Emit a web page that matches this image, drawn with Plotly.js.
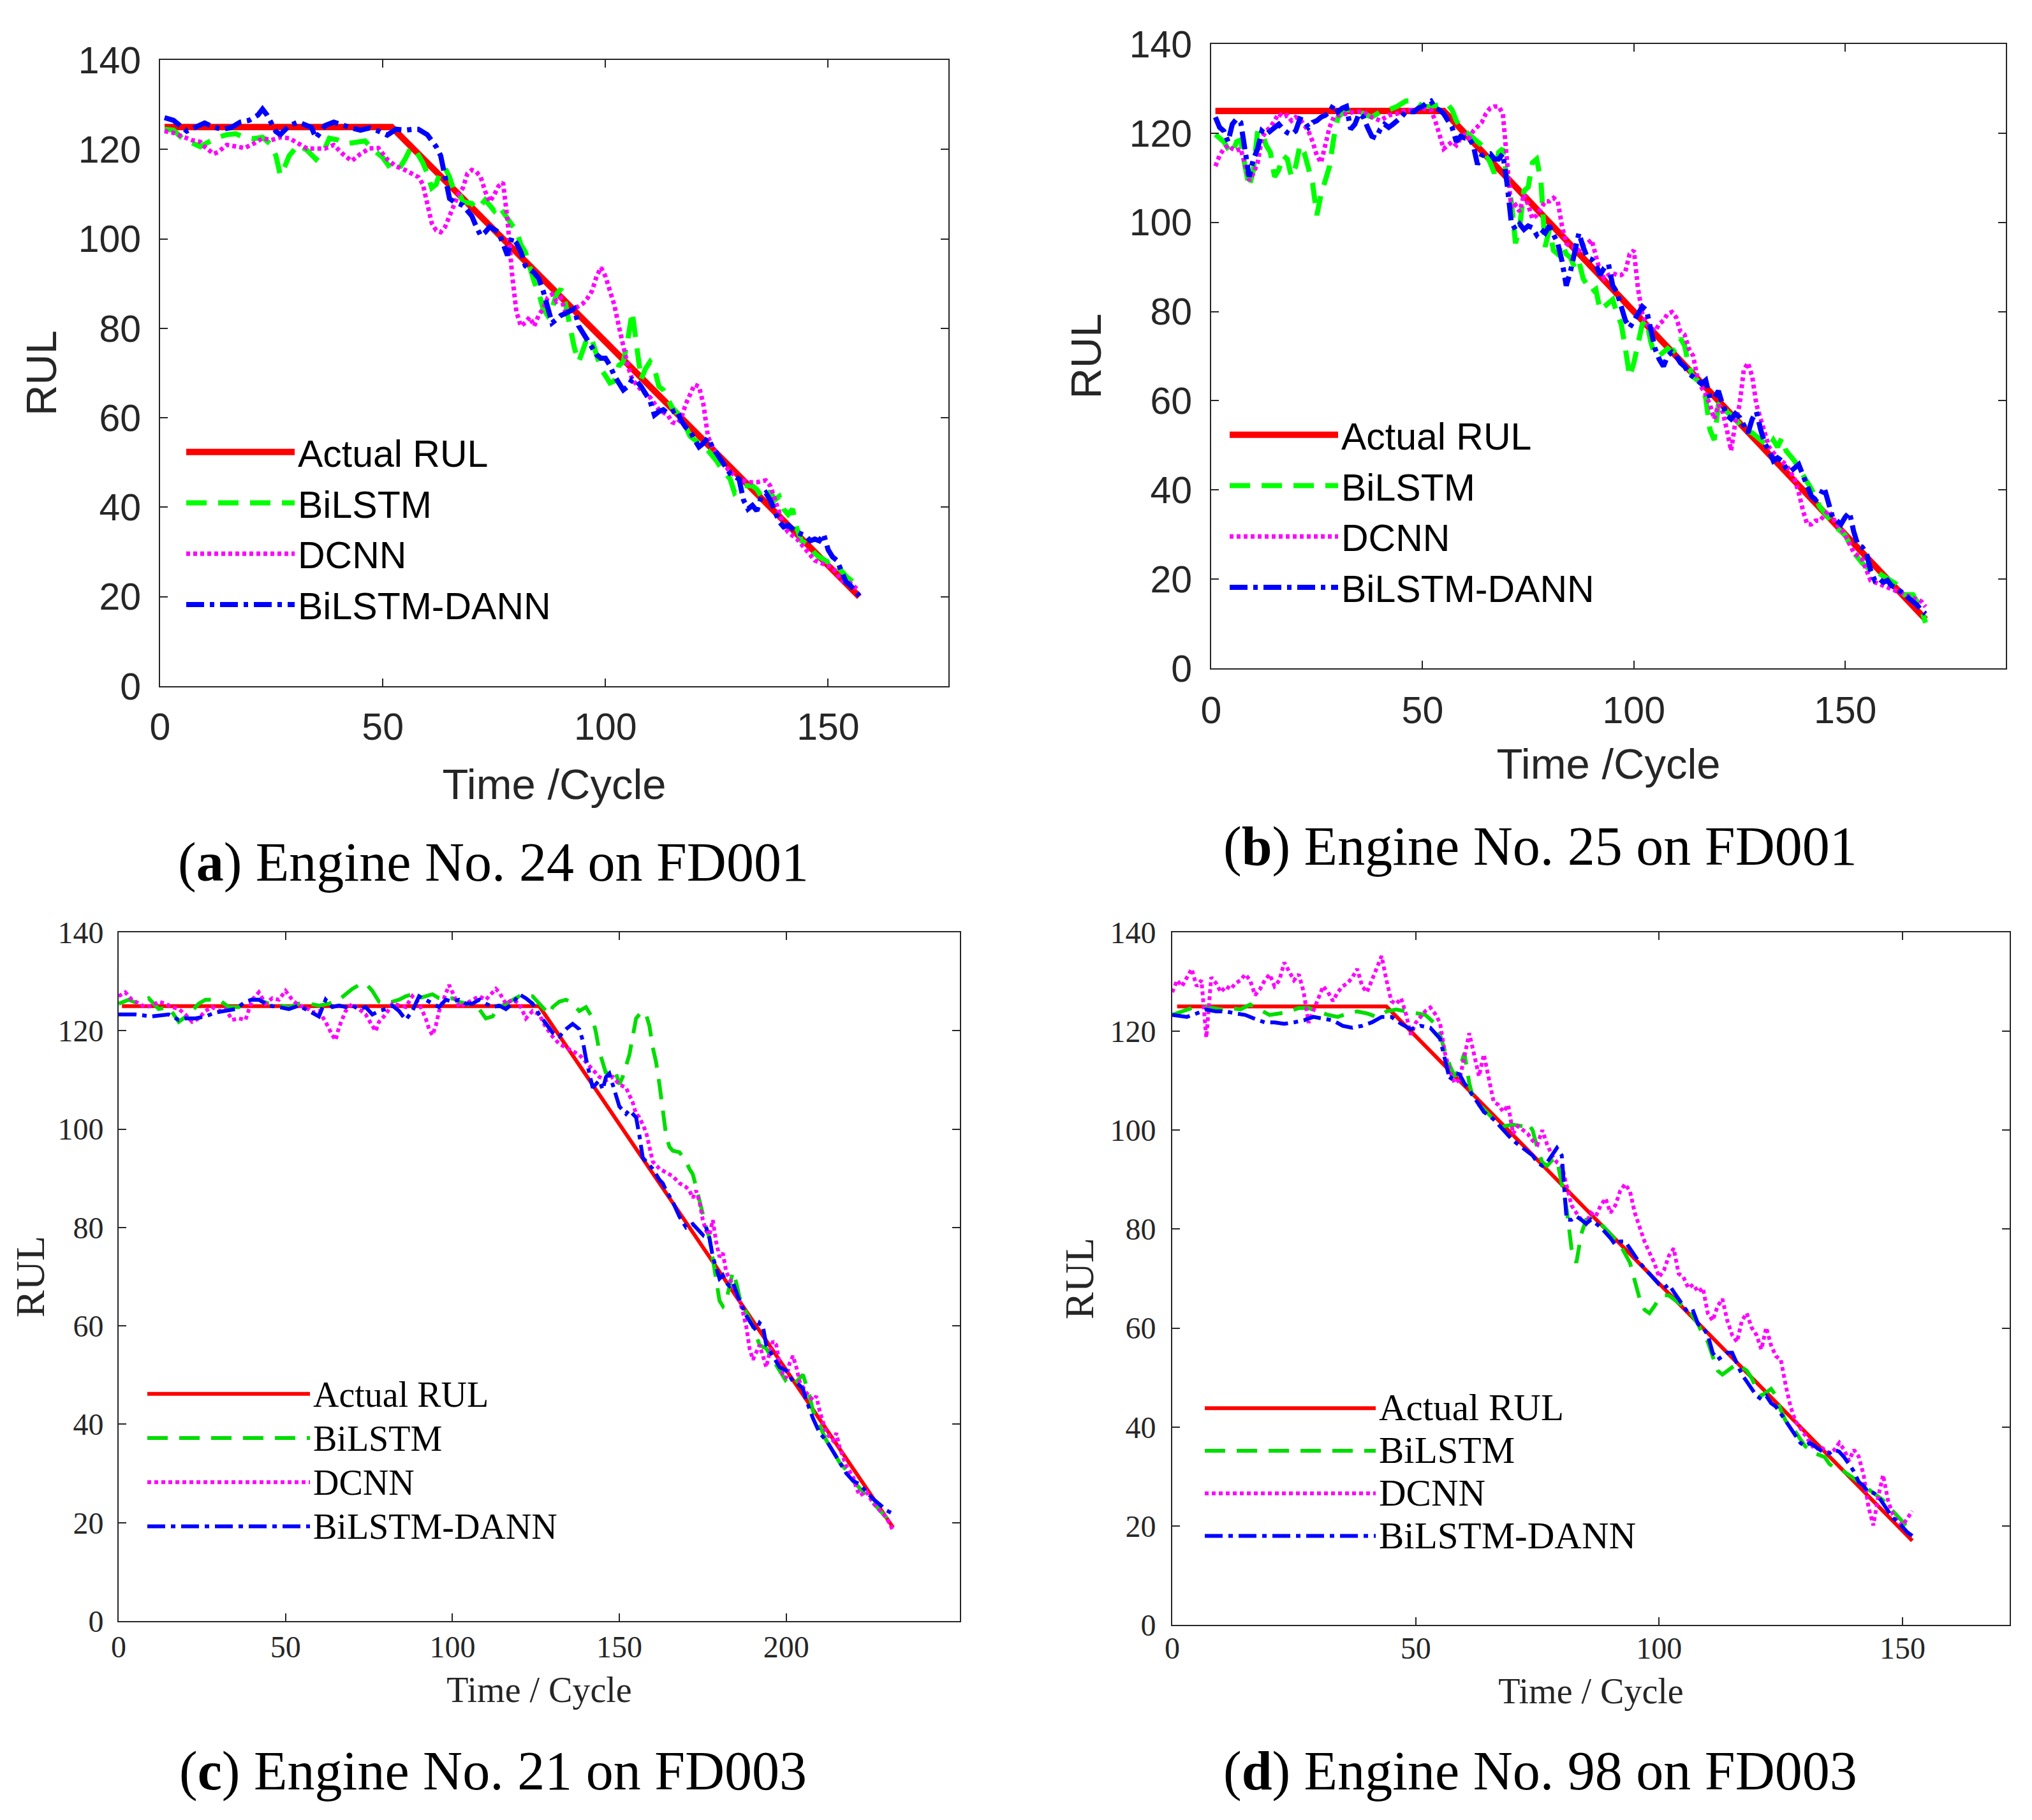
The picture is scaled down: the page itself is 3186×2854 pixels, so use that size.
<!DOCTYPE html>
<html>
<head>
<meta charset="utf-8">
<script src="https://cdn.plot.ly/plotly-3.0.1.min.js"></script>
<style>
  html, body { margin: 0; padding: 0; background: #fff; }
  #graph { width: 3186px; height: 2854px; }
</style>
</head>
<body>
<div id="graph"></div>
<script>
// series names (legend)
var seriesNames = ['Actual RUL', 'BiLSTM', 'DCNN', 'BiLSTM-DANN'];
var yTicks = [0, 20, 40, 60, 80, 100, 120, 140];
var xTicksA = [0, 50, 100, 150];
var xTicksC = [0, 50, 100, 150, 200];
var captions = ['Engine No. 24 on FD001', 'Engine No. 25 on FD001', 'Engine No. 21 on FD003', 'Engine No. 98 on FD003'];
var captionTags = ['a', 'b', 'c', 'd'];

// ---- (a) engine 24, FD001 : [cycle, RUL]
var aActual = [[1,125],[52,125],[157,20]];
var aBilstm = [[1,124.5],[3,124.3],[5,122.5],[7,121.6],[9,120.6],[11,121.7],[13,122.7],[15,123.3],[17,123.5],[19,122.7],[21,122.4],[23,122.7],[25,121],[26,118.6],[27,114.2],[28,116.2],[29,118.6],[31,121],[33,119.8],[35,117.8],[37,120.2],[38,122.5],[40,122.1],[42,121.3],[44,121.7],[46,121.9],[48,119.8],[50,118.2],[52,115.4],[54,116.2],[55,117.8],[56,119.8],[57,120.5],[59,117],[60,114.6],[61,111.4],[62,112.2],[63,115.4],[64,115.8],[65,113.8],[66,110.6],[67,110.6],[68,108.3],[70,107.9],[71,106.7],[72,107.5],[73,108.7],[74,107.5],[75,106.3],[76,107.5],[77,105.9],[78,104.7],[79,103.1],[80,101.9],[81,98.7],[82,97.1],[83,93.2],[84,90.4],[85,88],[86,84.4],[87,82.9],[88,84.4],[89,87.6],[90,88.8],[91,85.6],[92,80.5],[93,75.7],[94,72.5],[95,75.7],[96,78.1],[97,77.3],[98,74.1],[99,70.9],[100,69.4],[101,67.8],[102,68.2],[103,71.7],[104,72.5],[105,77.3],[106,83.7],[107,75.7],[108,68.6],[109,71],[110,72.5],[111,71],[112,67],[113,66.2],[115,62.2],[117,60.2],[119,55.9],[121,54.3],[123,52.7],[125,50.3],[126,48.7],[128,46.3],[129,43.2],[130,44],[131,44.8],[133,44.8],[134,44],[135,42.4],[136,42],[137,43.6],[138,41.6],[139,42.4],[140,39.6],[141,38.4],[142,39.6],[143,35.2],[144,32.5],[146,31.3],[147,29.7],[148,28.9],[150,27.7],[151,28.1],[152,26.9],[154,24.6],[155,23.8],[156,23],[157,21.7]];
var aDcnn = [[1,124.1],[3,123.7],[5,122.9],[7,122.1],[9,121.7],[10,120.6],[12,119],[13,119.4],[15,121],[17,120.6],[19,120.3],[21,121.3],[23,122.5],[25,122.1],[27,122.7],[29,122.5],[31,121.3],[33,120.2],[35,120.2],[37,120.2],[39,121],[41,119],[43,117.4],[45,119],[47,120.2],[49,120.3],[51,117.8],[53,116.2],[55,115.4],[57,114.2],[58,113.8],[59,112.2],[60,108.3],[61,103.5],[62,101.9],[63,101.5],[64,102.7],[65,105.1],[66,107.5],[67,110],[68,111.4],[69,114.6],[70,115.4],[71,115],[72,113.8],[73,110.6],[74,108.3],[75,109.8],[76,111.8],[77,112.6],[78,104.3],[79,92.4],[80,83.7],[81,80.5],[82,81.3],[83,82.5],[84,80.5],[85,82.9],[86,84.4],[87,86.8],[88,87.6],[89,86],[90,86.8],[91,83.7],[92,83.7],[93,84.4],[94,84.8],[95,85.6],[96,86.8],[97,88.4],[98,91.6],[99,93.6],[100,91.6],[101,88.4],[102,85.2],[103,80.5],[104,75.7],[105,71.7],[106,68.6],[108,66.2],[110,64.6],[112,61.8],[114,60.6],[115,59],[116,58.7],[117,59.8],[118,63],[119,65.4],[120,67.4],[121,67],[122,63],[123,55.9],[124,53.5],[126,50.3],[128,47.9],[130,46.3],[132,45.6],[134,45.6],[136,46],[137,44.8],[138,41.6],[139,38.4],[140,36],[141,34.4],[143,32.9],[145,30.5],[147,28.1],[149,27.3],[151,26.5],[153,23.7],[155,23],[157,21.3]];
var aDann = [[1,127.1],[3,126.5],[6,124.1],[8,125],[10,125.9],[12,125],[14,124.5],[16,124.9],[18,126.1],[20,126.5],[22,127.7],[23,129],[24,127.7],[26,124],[27,123.3],[29,125.3],[31,126.1],[32,125.7],[34,124.9],[35,122.5],[37,125.3],[39,126.1],[41,125.3],[43,124.8],[45,124.3],[47,124.8],[49,124.1],[51,123.2],[53,124.5],[55,124.3],[57,124.5],[58,124.5],[60,123.3],[62,120.6],[63,118.6],[64,113.8],[65,109],[66,108.3],[68,107.5],[69,106.3],[70,105.1],[71,102.7],[72,100.7],[73,101.5],[74,102.7],[76,101.5],[77,98.7],[78,96.3],[79,100.3],[80,99.1],[81,97.1],[82,94],[84,92.4],[85,91.2],[86,88.4],[87,84.4],[88,81.2],[89,82],[90,82.9],[91,83.3],[92,83.7],[93,84.4],[94,80.5],[96,77.3],[98,74.1],[99,73.3],[100,73.3],[101,71.7],[102,69.4],[104,66.2],[105,67],[106,68.6],[107,68.2],[108,67],[109,65.4],[110,63.8],[111,60.6],[112,61.4],[113,61.8],[114,61],[116,61.8],[117,59.4],[118,57.9],[119,57.1],[120,55.1],[121,53.5],[122,54.3],[123,55.5],[124,53.5],[126,50.3],[128,47.5],[130,46.3],[131,41.6],[132,39.6],[133,40.4],[134,39.2],[135,42.4],[136,43.2],[137,41.6],[138,39.2],[139,36.8],[140,35.6],[141,36],[142,35.2],[143,34.4],[144,34],[145,33.6],[146,32.5],[147,32.9],[148,32.5],[149,34],[150,30.5],[151,28.9],[152,28.1],[153,25.7],[154,23.3],[155,22.5],[156,21.3],[157,20.2]];

// ---- (b) engine 25, FD001
var bActual = [[1,125],[55,125],[169,11]];
var bBilstm = [[1,119.7],[3,118.1],[4,116.5],[5,115.4],[6,118.1],[7,118.5],[8,112.6],[9,107.9],[10,111.8],[11,120.5],[12,120.1],[13,117.3],[14,115.7],[15,110.2],[16,111.8],[17,115],[18,114.2],[19,110.2],[20,112.6],[21,117.3],[22,115.7],[23,111.8],[24,108.7],[25,101.6],[26,106.3],[27,109.4],[28,112.6],[29,118.9],[30,123.6],[32,125.2],[34,125.2],[36,124.4],[38,123.6],[40,124.8],[42,125.2],[44,126],[46,127.2],[48,127.4],[50,126],[52,126],[54,126.4],[56,126.4],[57,125.2],[58,122.8],[59,121.3],[60,120.5],[62,118.9],[64,117.3],[66,113.4],[67,111],[68,115.7],[69,116.5],[70,109.4],[71,104.7],[72,95.3],[73,99.2],[74,107.1],[75,107.9],[76,113.4],[77,114.2],[78,109.4],[79,94.5],[80,98.4],[81,93.7],[82,92.9],[83,95.3],[84,92.9],[85,92.1],[86,89.8],[87,91.3],[88,87.4],[89,85.8],[90,84.3],[91,85],[92,80.3],[93,81.1],[94,81.9],[95,82.7],[96,79.5],[97,77.2],[98,71.7],[99,65.4],[100,68.5],[101,73.2],[102,77.2],[103,78],[104,73.2],[105,70.1],[106,70.1],[107,70.9],[108,71.7],[109,70.9],[110,71.7],[111,74],[112,72.4],[113,67.7],[114,65.4],[115,64.6],[116,63.8],[117,60.6],[118,53.5],[119,51.2],[120,59.1],[121,59.8],[122,57.5],[124,55.9],[126,53.5],[128,52.8],[130,51.2],[131,50.4],[132,49.6],[133,51.2],[134,49.6],[135,51.6],[136,48.8],[138,46.5],[140,43.3],[142,40.2],[144,36.2],[146,33.9],[148,31.5],[150,29.9],[152,26],[154,23.6],[156,22],[158,21.3],[160,20.1],[162,18.9],[164,16.5],[166,16.5],[168,13.4],[169,10.2]];
var bDcnn = [[1,112.6],[2,115],[3,116.5],[4,117.3],[5,116.5],[6,116.1],[7,116.5],[8,112.6],[9,109.4],[10,111],[11,113.4],[12,118.9],[13,120.5],[14,121.3],[15,122.8],[16,124.4],[17,123.6],[18,124],[19,122.8],[20,123.6],[21,123.2],[22,122],[23,120.5],[24,118.1],[25,115],[26,113.4],[27,117.3],[28,121.3],[29,123.6],[30,124],[32,124.4],[34,124.8],[36,124.8],[38,123.6],[40,122.8],[42,124],[44,124.4],[46,125.2],[48,125.2],[50,125.6],[52,125.2],[53,122.8],[54,119.7],[55,116.5],[56,117.3],[57,118.1],[58,117.3],[59,118.9],[60,119.7],[61,118.9],[62,120.5],[63,121.3],[64,122.4],[65,124.4],[66,125.6],[67,126],[68,126],[69,124.4],[70,112.6],[71,103.1],[72,103.9],[73,102.4],[74,106.3],[75,103.9],[76,100.8],[77,101.6],[78,103.1],[79,104.7],[80,104.7],[81,105.5],[82,104.7],[83,99.2],[84,95.3],[85,94.5],[86,94.5],[87,93.7],[88,94.9],[89,95.3],[90,96.1],[91,92.9],[92,89],[93,87.4],[94,88.2],[95,88.6],[96,88.2],[97,88.2],[98,89],[99,92.9],[100,93.7],[101,85],[102,79.5],[103,77.2],[104,76.4],[105,75.6],[106,77.2],[107,78],[108,79.5],[109,79.9],[110,78.7],[111,75.6],[112,74.8],[113,71.7],[114,70.1],[115,65.4],[116,63],[117,61.4],[118,59.1],[119,55.9],[120,59.1],[121,57.5],[122,53.5],[123,48.8],[124,55.1],[125,59.1],[126,66.9],[127,68.5],[128,65.4],[129,59.1],[130,55.9],[131,52.8],[132,49.6],[134,47.2],[136,45.7],[138,42.5],[139,39.4],[140,35.4],[141,32.3],[142,32.3],[143,33.1],[144,33.1],[146,35.4],[148,32.3],[150,29.9],[152,26],[154,24.4],[156,19.7],[158,18.9],[160,18.1],[162,17.3],[164,16.5],[166,15.7],[168,15],[169,13.8]];
var bDann = [[1,123.6],[2,121.3],[3,120.5],[4,118.1],[5,122],[6,123.2],[7,122.4],[8,115.7],[9,110.2],[10,114.2],[11,116.5],[12,120.5],[13,119.7],[14,120.5],[15,121.3],[16,122],[17,120.9],[18,120.1],[19,119.7],[20,120.5],[21,123.2],[22,122.8],[23,121.3],[24,122.4],[25,122.8],[26,123.6],[27,124],[28,124.8],[29,126.4],[30,124.8],[31,125.6],[32,126],[33,120.9],[34,122],[35,124.4],[36,123.6],[37,121.3],[38,119.3],[39,118.9],[40,120.9],[41,122],[42,121.3],[43,122],[44,122.8],[45,123.6],[46,124.8],[47,124.8],[48,124.8],[49,125.6],[50,126],[51,126.8],[52,127.2],[53,125.6],[54,125.2],[55,124.4],[56,122.8],[57,121.3],[58,118.1],[59,119.3],[60,118.9],[61,118.9],[62,117.3],[63,113],[64,115],[65,115.4],[66,115.4],[67,114.2],[68,114.2],[69,115.4],[70,108.7],[71,100],[72,98.4],[73,99.6],[74,98.4],[75,99.2],[76,98.8],[77,97.2],[78,98.4],[79,97.6],[80,99.2],[81,97.2],[82,95.3],[83,91.3],[84,85.8],[85,89],[86,93.7],[87,97.6],[88,94.5],[89,92.1],[90,91.7],[91,90.6],[92,88.2],[93,89.8],[94,90.6],[95,85.8],[96,84.3],[97,81.1],[98,78],[99,76.4],[100,78],[101,79.5],[102,81.1],[103,80.3],[104,76.4],[105,71.7],[106,69.3],[107,67.7],[108,70.1],[109,70.9],[110,70.1],[111,68.5],[112,67.7],[113,66.1],[114,65.4],[115,64.6],[116,63.8],[117,64.6],[118,60.6],[119,60.6],[120,62.2],[121,59.1],[122,56.7],[123,55.9],[124,57.1],[125,56.3],[126,54.3],[127,52.8],[128,55.9],[129,57.5],[130,53.5],[131,50.4],[132,48.8],[133,46.5],[134,47.2],[135,46.5],[136,44.9],[137,44.1],[138,44.9],[139,45.7],[140,43.3],[141,40.9],[142,38.6],[143,37.8],[144,38.6],[145,40.6],[146,37],[147,33.9],[148,33.1],[149,32.3],[150,33.9],[151,35],[152,30.7],[153,27.6],[154,27.2],[155,26],[156,22],[157,19.7],[158,20.1],[159,19.3],[160,19.7],[161,18.5],[162,18.1],[163,17.3],[164,16.5],[165,15.7],[166,15],[167,14.2],[168,13],[169,12.2]];

// ---- (c) engine 21, FD003
var cActual = [[1,125],[126,125],[232,19]];
var cBilstm = [[0,125.5],[3,126.3],[6,125.5],[9,126.6],[12,124.4],[15,124.8],[18,121.8],[21,123.3],[24,125.5],[26,126.3],[28,126.3],[30,126.3],[33,124.8],[36,124.8],[39,126.3],[42,126.3],[45,125.5],[48,125.1],[51,124.8],[54,125.5],[57,125.5],[60,125.1],[63,125.5],[66,126.3],[68,127.4],[70,128.5],[72,129.3],[74,129.6],[76,128.1],[78,125.9],[80,125.5],[82,125.9],[84,126.3],[86,127],[88,127.4],[90,126.6],[92,127],[94,127.4],[96,126.6],[98,126.3],[100,126.6],[102,125.9],[104,125.5],[106,125.1],[108,124.4],[110,122.5],[112,122.9],[114,124.8],[116,125.5],[118,126.3],[120,127],[122,127],[124,127],[126,125.5],[128,124],[129,123.3],[130,124.8],[132,125.9],[134,126.3],[136,125.5],[138,124],[140,124.8],[142,122.5],[143,119.6],[144,115.8],[145,113.6],[146,111.3],[147,112.1],[148,112.1],[149,111.3],[150,109.1],[151,110.6],[152,112.8],[153,115.1],[154,118.8],[155,122.5],[156,123.3],[157,124],[158,123.3],[159,121],[160,116.6],[161,113.6],[162,109.1],[163,103.9],[164,98.7],[165,96.4],[166,95.6],[168,95.3],[170,93.4],[171,91.9],[172,90.8],[173,88.2],[174,85.2],[175,82.2],[176,80],[177,77.8],[178,73.3],[179,68.8],[180,65.1],[181,64],[182,65.1],[183,68.1],[184,71],[185,68.8],[186,65.8],[188,62.8],[190,59.9],[192,56.1],[194,55.4],[196,53.1],[198,50.9],[200,48.7],[202,47.9],[204,49.4],[205,50.1],[206,47.9],[207,45.7],[208,42.7],[210,39.7],[212,36.7],[214,34.5],[216,32.2],[218,30.7],[220,28.5],[222,27],[224,25.5],[226,24],[228,22.5],[230,21],[232,19.2]];
var cDcnn = [[0,127],[2,127.8],[4,126.3],[6,125.5],[8,124.8],[10,125.1],[12,125.9],[14,125.5],[16,124.8],[18,124.4],[20,123.3],[22,121.8],[24,122.5],[26,124],[28,124.8],[30,124],[32,124.4],[34,122.2],[36,122.5],[38,122.2],[40,126.3],[42,127.8],[44,125.5],[46,126.6],[48,126.3],[50,128.1],[52,126.3],[54,125.1],[56,124.8],[58,123.7],[60,124],[62,121.8],[63,120.3],[64,119.1],[65,118.1],[66,120.7],[68,124],[70,125.5],[72,124.4],[74,123.3],[76,121],[77,119.9],[78,121.8],[80,123.3],[82,125.5],[84,125.1],[86,124.8],[88,127],[90,125.5],[92,122.5],[93,120.3],[94,119.1],[95,121],[96,124],[98,127.8],[99,129.3],[100,127.8],[102,124.8],[104,125.5],[106,126.3],[108,127],[110,126.3],[112,127.8],[113,128.5],[114,127.8],[116,125.5],[118,126.3],[120,125.5],[122,122.5],[124,124],[126,123.3],[128,120.7],[130,118.8],[132,117.3],[134,116.6],[136,115.8],[138,115.1],[140,113.6],[142,112.1],[144,110.6],[146,109.9],[148,110.6],[150,109.1],[152,108.4],[153,106.9],[154,105.4],[155,103.1],[156,102.4],[157,100.9],[158,99.4],[159,96.4],[160,93.4],[161,92.7],[162,91.9],[164,91.2],[166,90.4],[168,89],[170,88.2],[171,87.5],[172,86],[173,87.5],[174,85.2],[175,81.5],[176,79.3],[177,78.5],[178,81.5],[179,77],[180,74],[181,74.8],[182,71],[183,69.6],[184,68.1],[186,65.1],[187,62.8],[188,59.9],[189,55.4],[190,53.1],[191,54.6],[192,56.1],[193,53.9],[194,51.6],[195,54.6],[196,56.9],[197,56.1],[198,52.4],[199,50.1],[200,49.4],[201,52.4],[202,53.9],[203,51.6],[204,48.7],[206,46.4],[208,44.9],[209,45.7],[210,42.7],[212,38.2],[214,36.7],[215,38.2],[216,35.2],[218,31.5],[220,29.3],[221,27],[222,25.5],[224,26.3],[226,24],[228,22.5],[230,21],[232,18.4]];
var cDann = [[0,123.3],[5,123.3],[10,122.9],[15,123.3],[18,122.2],[20,122.5],[23,122.5],[26,122.9],[29,123.7],[32,124],[35,124.4],[38,125.9],[40,126.3],[42,126.3],[45,125.1],[48,124.8],[51,124.4],[54,125.1],[57,124],[60,122.9],[62,126.3],[64,124.8],[66,125.1],[68,124.8],[70,125.1],[72,124.4],[74,124.8],[76,123.3],[78,124],[80,124.4],[82,125.1],[84,124],[86,122.2],[88,124],[90,127],[92,126.3],[94,125.5],[96,124.8],[98,126.3],[100,125.9],[102,126.3],[104,125.5],[106,125.5],[108,126.3],[110,125.5],[112,124.8],[114,125.1],[116,124.4],[118,125.5],[120,127.4],[122,126.6],[124,125.5],[126,123.3],[128,121.4],[130,119.6],[132,118.8],[134,120.3],[136,121.4],[138,120.3],[139,118.1],[140,114.3],[142,108.4],[143,109.1],[144,109.9],[145,108],[146,110.6],[147,111.3],[148,109.1],[149,106.9],[150,104.6],[152,103.1],[153,103.9],[154,103.1],[155,102.4],[156,98.7],[157,94.2],[158,93.4],[160,91.9],[162,89.7],[163,89],[164,87.5],[166,85.2],[168,82.2],[170,80],[172,80.7],[174,79.3],[175,78.5],[176,80],[177,77.8],[178,74],[179,71.8],[180,69.6],[181,70.3],[182,68.8],[183,68.1],[184,68.8],[186,65.1],[188,62.1],[190,59.9],[191,59.1],[192,60.6],[193,59.9],[194,56.1],[196,53.9],[198,51.6],[200,50.9],[202,48.7],[204,47.9],[205,47.2],[206,44.9],[208,41.2],[210,38.2],[212,36.7],[214,34.5],[216,32.2],[218,30],[220,28.5],[222,27.8],[224,26.3],[226,24.8],[228,23.7],[230,22.5],[232,21.8]];

// ---- (d) engine 98, FD003
var dActual = [[1,125],[44,125],[152,17]];
var dBilstm = [[0,123.3],[2,124],[4,124.7],[6,125.1],[8,124.7],[10,124.4],[12,124.7],[14,124.4],[16,125.4],[18,124.4],[20,123.3],[22,123.6],[24,124],[26,124.7],[28,124.7],[30,124],[32,123.3],[34,122.9],[36,123.6],[38,124],[40,123.6],[42,122.9],[44,124],[46,124.4],[48,124],[50,123.6],[52,123.3],[54,121.5],[55,119.3],[56,116],[57,113.1],[58,110.9],[59,112.4],[60,115.6],[61,109.5],[62,105.8],[63,105.1],[64,104.3],[66,102.2],[68,100.8],[70,101.1],[72,100.8],[73,101.5],[74,100],[75,96.4],[76,93.5],[77,92.8],[78,93.9],[79,94.2],[80,89.1],[81,84.1],[82,76.1],[83,73.2],[84,79],[85,81.9],[86,82.2],[88,81.1],[90,79],[92,76.8],[94,73.2],[95,69.5],[96,65.9],[97,63.7],[98,63],[99,64.4],[100,65.9],[101,66.6],[102,66.6],[104,65.1],[106,63.7],[108,60.8],[109,58.6],[110,57.2],[111,54.3],[112,51.4],[113,50.6],[114,51.4],[115,52.1],[116,52.8],[117,52.1],[118,51.4],[119,49.9],[120,47.7],[121,46.3],[122,47],[123,47.7],[124,46.3],[125,43.4],[126,41.2],[128,39],[130,36.1],[132,34.7],[134,33.9],[135,32.5],[136,31.8],[138,31],[140,29.6],[142,28.1],[144,26.7],[146,25.2],[148,23],[150,20.9],[152,18.7]];
var dDcnn = [[0,127.9],[1,130.3],[2,129.1],[3,130.9],[4,132.6],[5,129.1],[6,130.3],[7,118.7],[8,130.9],[9,129.7],[10,127.9],[11,129.1],[12,128.5],[13,129.7],[14,130.3],[15,131.5],[16,130.3],[17,127.3],[18,128.5],[19,130.3],[20,131.5],[21,129.1],[22,130.3],[23,133.9],[24,132.1],[25,130.3],[26,131.5],[27,127.9],[28,121.7],[29,124.1],[30,126.5],[31,129.1],[32,127.9],[33,126.1],[34,127.9],[35,129.1],[36,129.7],[37,130.9],[38,132.6],[39,129.1],[40,127.9],[41,130.3],[42,132.6],[43,135.2],[44,130.3],[45,126.1],[46,125.5],[47,126.7],[48,123.5],[49,119.3],[50,121.7],[51,122.9],[52,124.1],[53,124.8],[54,123.5],[55,121.7],[56,115.6],[57,112],[58,109.5],[59,110.2],[60,115.3],[61,119.6],[62,115.3],[63,110.9],[64,115.3],[65,110.9],[66,105.8],[67,105.1],[68,103.7],[69,105.1],[70,99.3],[71,100.8],[72,100],[73,99.3],[74,97.9],[75,97.1],[76,100],[77,97.1],[78,94.9],[79,93.5],[80,92.8],[81,88.4],[82,84.8],[83,83.3],[84,81.9],[85,81.1],[86,83.3],[87,82.6],[88,84.8],[89,86.2],[90,83.3],[91,84.8],[92,87.7],[93,89.1],[94,87.7],[95,83.3],[96,80.4],[97,77.5],[98,75.3],[99,73.2],[100,70.3],[101,71.7],[102,74.6],[103,76.1],[104,71],[105,70.3],[106,68.1],[107,68.8],[108,67.3],[109,68.1],[110,63],[111,61.5],[112,64.4],[113,65.9],[114,61.5],[115,58.6],[116,57.2],[117,61.5],[118,63],[119,60.1],[120,58.6],[121,55.7],[122,60.1],[123,56.5],[124,54.3],[125,53.6],[126,48.4],[127,44.1],[128,41.2],[129,39.8],[130,38.3],[131,36.8],[132,35.4],[133,36.1],[134,35.4],[135,34.7],[136,35.4],[137,36.8],[138,35.4],[139,33.2],[140,35.4],[141,34],[142,30.3],[143,23.8],[144,20.1],[145,25.9],[146,30.3],[147,25.2],[148,22.3],[149,20.9],[150,20.1],[151,21.6],[152,23]];
var dDann = [[0,123.3],[3,122.9],[5,123.6],[7,124.4],[9,124],[11,124],[13,123.6],[15,123.3],[17,122.5],[19,121.8],[21,121.8],[23,121.5],[25,121.8],[27,122.2],[29,122.9],[31,122.5],[33,122.2],[35,121.1],[37,120.7],[39,121.1],[41,121.8],[43,122.9],[45,122.9],[47,121.5],[49,120.4],[51,121.1],[53,120.7],[55,118.5],[56,114.6],[57,110.2],[58,111.6],[59,111.3],[60,109.5],[62,106.6],[63,105.1],[64,103.7],[66,102.2],[68,100],[70,97.9],[72,96.4],[74,94.9],[75,93.5],[76,92.8],[77,93.5],[78,94.9],[79,96.4],[80,94.9],[81,81.9],[82,81.9],[83,82.6],[84,81.9],[85,81.1],[86,81.9],[88,80.4],[90,78.2],[91,76.8],[92,77.5],[93,77.5],[94,76.1],[96,73.2],[98,71],[100,68.8],[101,68.1],[102,68.8],[103,67.3],[104,65.9],[106,63],[107,63.4],[108,60.8],[109,60.1],[110,58.6],[111,55],[112,53.6],[113,54.3],[114,55],[115,55],[116,52.8],[117,50.6],[118,49.2],[119,47.7],[120,46.3],[121,45.6],[122,46.3],[123,44.8],[124,44.1],[125,42.7],[126,41.2],[127,39.8],[128,38.3],[129,36.8],[130,36.1],[131,36.8],[132,36.1],[133,35.4],[134,34.7],[135,34.7],[136,35.4],[137,35],[138,33.9],[139,32.5],[140,31],[141,28.9],[142,28.1],[143,26.7],[144,26.7],[145,26],[146,24.5],[147,23],[148,21.6],[149,20.9],[150,19.8],[151,18.7],[152,18]];

var W = 3186, H = 2854;
function px(v) { return v / W; }
function py(v) { return 1 - v / H; }

var sansFont = 'Liberation Sans, Arial, sans-serif';
var serifFont = 'Liberation Serif, Times New Roman, serif';

// panel boxes in page pixels: [left, right, top, bottom]
var panels = [
  { sets: [aActual, aBilstm, aDcnn, aDann], box: [251, 1487, 94, 1076], xmax: 177, xt: xTicksA,
    font: sansFont, tick: 59, ytitle: 67, xtitle: 67, leg: 59, legText: 0, lw: [10, 8, 7, 8],
    green: '#00ff00', legPos: [287, 664], itemw: 170,
    xTitle: 'Time /Cycle', cap: [773, 1352], ystand: 12, xstand: 34, ylab: 16, xlab: 11 },
  { sets: [bActual, bBilstm, bDcnn, bDann], box: [1899, 3145, 69, 1048], xmax: 188, xt: xTicksA,
    font: sansFont, tick: 59, ytitle: 67, xtitle: 67, leg: 59, legText: 0, lw: [10, 8, 7, 8],
    green: '#00ff00', legPos: [1923, 637], itemw: 170,
    xTitle: 'Time /Cycle', cap: [2415, 1327], ystand: 22, xstand: 28, ylab: 16, xlab: 13 },
  { sets: [cActual, cBilstm, cDcnn, cDann], box: [186, 1505, 1462, 2542], xmax: 252, xt: xTicksC,
    font: serifFont, tick: 48, ytitle: 64, xtitle: 56, leg: 51, legText: 56, lw: [6, 6, 6, 6],
    green: '#00dd00', legPos: [226, 2146], itemw: 255,
    xTitle: 'Time / Cycle', cap: [773, 2777], ystand: 0, xstand: 22, ylab: 12, xlab: -3 },
  { sets: [dActual, dBilstm, dDcnn, dDann], box: [1838, 3151, 1462, 2548], xmax: 172, xt: xTicksA,
    font: serifFont, tick: 48, ytitle: 64, xtitle: 56, leg: 49, legText: 59, lw: [6, 6, 6, 6],
    green: '#00dd00', legPos: [1884, 2170], itemw: 268,
    xTitle: 'Time / Cycle', cap: [2415, 2777], ystand: 5, xstand: 22, ylab: 14, xlab: -7 }
];

var dashes = ['solid', '32px,18px', '6px,5px', '28px,9px,7px,9px'];

var data = [];
var layout = {
  width: W, height: H,
  margin: { l: 0, r: 0, t: 0, b: 0 },
  paper_bgcolor: '#ffffff',
  plot_bgcolor: '#ffffff',
  showlegend: true,
  annotations: []
};

panels.forEach(function (p, k) {
  var n = k === 0 ? '' : String(k + 1);
  var legName = 'legend' + n;
  var colors = ['#ff0000', p.green, '#ff00ff', '#0000ff'];
  p.sets.forEach(function (s, j) {
    var label = seriesNames[j];
    if (p.legText) label = '<span style="font-size:' + p.legText + 'px">' + label + '</span>';
    data.push({
      x: s.map(function (d) { return d[0]; }),
      y: s.map(function (d) { return d[1]; }),
      type: 'scatter',
      mode: 'lines',
      name: label,
      xaxis: 'x' + n,
      yaxis: 'y' + n,
      legend: legName,
      line: { color: colors[j], width: p.lw[j], dash: dashes[j] },
      hoverinfo: 'skip'
    });
  });

  var axisCommon = {
    showgrid: false, zeroline: false,
    showline: true, linecolor: '#262626', linewidth: 2,
    mirror: 'ticks', ticks: 'inside', ticklen: 12, tickwidth: 2, tickcolor: '#262626',
    tickfont: { family: p.font, size: p.tick, color: '#262626' }
  };
  layout['xaxis' + n] = Object.assign({}, axisCommon, {
    domain: [px(p.box[0]), px(p.box[1])],
    anchor: 'y' + n,
    range: [0, p.xmax],
    tickvals: p.xt,
    ticklabelstandoff: p.xlab,
    title: { text: p.xTitle, font: { family: p.font, size: p.xtitle, color: '#262626' }, standoff: p.xstand }
  });
  layout['yaxis' + n] = Object.assign({}, axisCommon, {
    domain: [py(p.box[3]), py(p.box[2])],
    anchor: 'x' + n,
    range: [0, 140],
    tickvals: yTicks,
    ticklabelstandoff: p.ylab,
    title: { text: 'RUL', font: { family: p.font, size: p.ytitle, color: '#262626' }, standoff: p.ystand }
  });
  layout[legName] = {
    x: px(p.legPos[0]), y: py(p.legPos[1]),
    xanchor: 'left', yanchor: 'top',
    bgcolor: 'rgba(0,0,0,0)', borderwidth: 0,
    itemwidth: p.itemw,
    tracegroupgap: 0,
    font: { family: p.font, size: p.leg, color: '#000000' }
  };
  layout.annotations.push({
    xref: 'paper', yref: 'paper',
    x: px(p.cap[0]), y: py(p.cap[1]),
    xanchor: 'center', yanchor: 'middle',
    showarrow: false,
    text: '(<b>' + captionTags[k] + '</b>) ' + captions[k],
    font: { family: serifFont, size: 86, color: '#000000' }
  });
});

Plotly.newPlot('graph', data, layout, { staticPlot: true });
</script>
</body>
</html>
